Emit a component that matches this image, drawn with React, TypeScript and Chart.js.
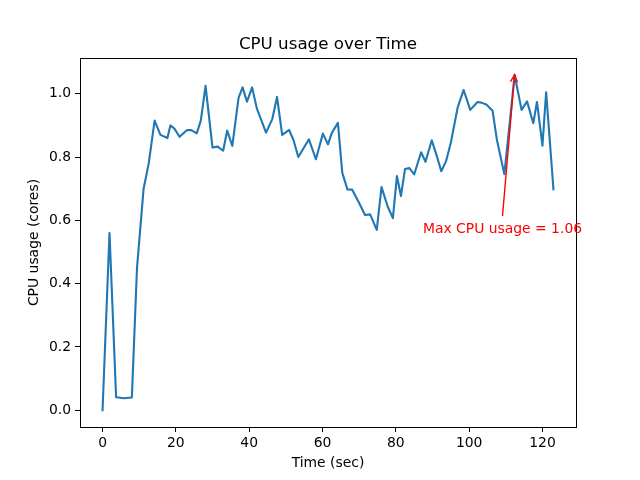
import React, { useEffect, useRef } from "react";
import { Chart, registerables } from "chart.js";

Chart.register(...registerables);

const timeSec = [
  0, 1.9, 3.7, 5.9, 8.0, 9.4, 11.2, 12.6, 14.2, 15.8, 17.7, 18.5, 19.6, 21.0, 23.0, 24.2, 25.7, 26.8, 28.1,
  30.0, 31.4, 32.9, 34.0, 35.4, 37.1, 38.2, 39.4, 40.8, 42.1, 44.6, 46.3, 47.6, 49.0, 50.9, 52.1, 53.4,
  56.3, 58.2, 60.1, 61.5, 62.5, 64.2, 65.4, 66.8, 68.1, 70.0, 71.6, 73.0, 74.8, 76.1, 77.8, 79.2, 80.3,
  81.4, 82.5, 83.7, 85.0, 86.9, 88.1, 89.8, 91.1, 92.4, 93.7, 95.0, 96.9, 98.5, 100.3, 102.3, 103.3,
  104.7, 106.4, 107.6, 109.6, 111.0, 112.4, 114.3, 115.8, 117.5, 118.5, 120.0, 121.0, 123.0,
];
const cpuCores = [
  0.0, 0.56, 0.041, 0.038, 0.04, 0.45, 0.70, 0.78, 0.915, 0.87, 0.86, 0.90, 0.89, 0.864, 0.885, 0.885, 0.875,
  0.915, 1.025, 0.83, 0.833, 0.82, 0.884, 0.835, 0.987, 1.02, 0.975, 1.02, 0.953, 0.877, 0.92, 0.99, 0.87,
  0.886, 0.853, 0.80, 0.856, 0.793, 0.874, 0.84, 0.875, 0.908, 0.75, 0.698, 0.697, 0.655, 0.617, 0.619,
  0.57, 0.705, 0.643, 0.607, 0.74, 0.677, 0.762, 0.765, 0.745, 0.815, 0.785, 0.853, 0.806, 0.755, 0.787,
  0.845, 0.958, 1.012, 0.949, 0.974, 0.972, 0.966, 0.946, 0.853, 0.746, 0.90, 1.06, 0.949, 0.976, 0.907,
  0.974, 0.836, 1.005, 0.698,
];
const xTicks = [0, 20, 40, 60, 80, 100, 120];
const yTicks = [0.0, 0.2, 0.4, 0.6, 0.8, 1.0];
const chartTitle = "CPU usage over Time";
const xLabel = "Time (sec)";
const yLabel = "CPU usage (cores)";

const FONT = "'DejaVu Sans', sans-serif";

export default function App() {
  const ref = useRef<HTMLCanvasElement | null>(null);
  useEffect(() => {
    if (!ref.current) return;
    const tMin = Math.min(...timeSec);
    const tMax = Math.max(...timeSec);
    const vMin = Math.min(...cpuCores);
    const vMax = Math.max(...cpuCores);
    const tm = (tMax - tMin) * 0.05;
    const vm = (vMax - vMin) * 0.05;
    const maxIdx = cpuCores.indexOf(vMax);
    const maxT = timeSec[maxIdx];

    const overlay = {
      id: "overlay",
      afterDraw(chart: any) {
        const { ctx, chartArea: a, scales } = chart;
        ctx.save();
        ctx.strokeStyle = "#000";
        ctx.lineWidth = 1;
        ctx.strokeRect(Math.round(a.left) + 0.5, Math.round(a.top) + 0.5, Math.round(a.right - a.left), Math.round(a.bottom - a.top));
        ctx.fillStyle = "#000";
        ctx.font = `16.7px ${FONT}`;
        ctx.textAlign = "center";
        ctx.textBaseline = "alphabetic";
        ctx.fillText(chartTitle, (a.left + a.right) / 2, 49);
        const px = scales.x.getPixelForValue(maxT);
        const py = scales.y.getPixelForValue(vMax);
        const tx = scales.x.getPixelForValue(maxT - 25);
        const ty = scales.y.getPixelForValue(vMax - 0.5);
        const label = `Max CPU usage = ${vMax.toFixed(2)}`;
        ctx.font = `13.9px ${FONT}`;
        ctx.textAlign = "left";
        ctx.fillStyle = "red";
        ctx.fillText(label, tx, ty);
        const w = ctx.measureText(label).width;
        const sx = tx + w / 2;
        const sy = ty - 17;
        ctx.strokeStyle = "red";
        ctx.lineWidth = 1.4;
        ctx.beginPath();
        ctx.moveTo(sx, sy);
        ctx.lineTo(px, py);
        ctx.stroke();
        const ang = Math.atan2(py - sy, px - sx);
        const hl = 8, hw = 0.45;
        ctx.beginPath();
        ctx.moveTo(px - hl * Math.cos(ang - hw), py - hl * Math.sin(ang - hw));
        ctx.lineTo(px, py);
        ctx.lineTo(px - hl * Math.cos(ang + hw), py - hl * Math.sin(ang + hw));
        ctx.stroke();
        ctx.restore();
      },
    };

    const chart = new Chart(ref.current, {
      type: "line",
      data: {
        datasets: [
          {
            data: timeSec.map((t, i) => ({ x: t, y: cpuCores[i] })),
            borderColor: "#1f77b4",
            borderWidth: 2.1,
            borderJoinStyle: "round",
            borderCapStyle: "square",
            pointRadius: 0,
            tension: 0,
            fill: false,
          },
        ],
      },
      options: {
        animation: false,
        responsive: false,
        maintainAspectRatio: false,
        layout: { padding: { top: 58, right: 64, left: 0, bottom: 0 } },
        plugins: { legend: { display: false }, tooltip: { enabled: false }, title: { display: false } },
        scales: {
          x: {
            type: "linear",
            min: tMin - tm,
            max: tMax + tm,
            afterBuildTicks: (s: any) => {
              s.ticks = xTicks.map((v) => ({ value: v }));
            },
            afterFit: (s: any) => {
              s.height = 53;
            },
            grid: { drawOnChartArea: false, drawTicks: true, tickLength: 5, color: "#000", tickWidth: 1 },
            border: { display: false },
            ticks: { color: "#000", font: { family: FONT, size: 13.9 }, padding: 3, maxRotation: 0, callback: (v: any) => String(v) },
            title: { display: true, text: xLabel, color: "#000", font: { family: FONT, size: 13.9 }, padding: { top: 4, bottom: 8 } },
          },
          y: {
            type: "linear",
            min: vMin - vm,
            max: vMax + vm,
            afterBuildTicks: (s: any) => {
              s.ticks = yTicks.map((v) => ({ value: v }));
            },
            afterFit: (s: any) => {
              s.width = 80;
            },
            grid: { drawOnChartArea: false, drawTicks: true, tickLength: 5, color: "#000", tickWidth: 1 },
            border: { display: false },
            ticks: { color: "#000", font: { family: FONT, size: 13.9 }, padding: 4, callback: (v: any) => Number(v).toFixed(1) },
            title: { display: true, text: yLabel, color: "#000", font: { family: FONT, size: 13.9 }, padding: { top: 26, bottom: 4 } },
          },
        },
      },
      plugins: [overlay],
    });
    return () => chart.destroy();
  }, []);
  return (
    <div style={{ position: "fixed", left: 0, top: 0, width: 640, height: 480, background: "#fff" }}>
      <canvas ref={ref} width={640} height={480} style={{ width: 640, height: 480 }} />
    </div>
  );
}
